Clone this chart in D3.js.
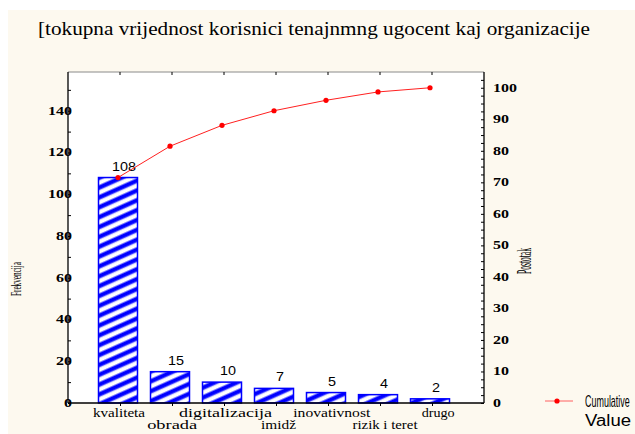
<!DOCTYPE html>
<html>
<head>
<meta charset="utf-8">
<script src="https://cdn.jsdelivr.net/npm/d3@7"></script>
<style>
  html, body { margin: 0; padding: 0; background: #ffffff; }
  svg { display: block; }
</style>
</head>
<body>
<svg id="chart" width="635" height="434"></svg>
<script>
// Pareto data: counts per category (sorted descending)
const categories = ["kvaliteta", "obrada", "digitalizacija", "imidž", "inovativnost", "rizik i teret", "drugo"];
const counts = [108, 15, 10, 7, 5, 4, 2];
const leftTicks = [0, 20, 40, 60, 80, 100, 120, 140];
const rightTicks = [0, 10, 20, 30, 40, 50, 60, 70, 80, 90, 100];
// label widths (compressed typeface look)
const labelWidths = [52, 50, 93, 35, 77, 65, 33];
const labelRows = [0, 1, 0, 1, 0, 1, 0];

const titleText = "[tokupna vrijednost korisnici tenajnmng ugocent kaj organizacije";
const leftTitle = "Frekvencija";
const rightTitle = "Postotak";
const legendText = ["Cumulative", "Value"];

const svg = d3.select("#chart");
const W = 635, H = 434;
const plot = { left: 68, right: 484, top: 72, bottom: 403 };

const total = d3.sum(counts);
const cumPct = Array.from(d3.cumsum(counts), v => v / total * 100);

// background panel
svg.append("rect").attr("x", 0).attr("y", 0).attr("width", W).attr("height", H).attr("fill", "#ffffff");
svg.append("rect").attr("x", 8).attr("y", 10).attr("width", W - 8).attr("height", H - 10).attr("fill", "#fdf9ef");
svg.append("rect").attr("x", plot.left).attr("y", plot.top)
  .attr("width", plot.right - plot.left).attr("height", plot.bottom - plot.top).attr("fill", "#ffffff");

// scales
const x = d3.scaleLinear().domain([0, categories.length + 1]).range([66, 482]);
const yL = d3.scaleLinear().domain([0, total * 1.05]).range([plot.bottom, plot.top]);
const yR = d3.scaleLinear().domain([0, 105]).range([plot.bottom, plot.top]);
const barW = 39;

// hatch pattern
const defs = svg.append("defs");
const pat = defs.append("pattern").attr("id", "hatch")
  .attr("patternUnits", "userSpaceOnUse").attr("width", 9).attr("height", 9)
  .attr("patternTransform", "rotate(-24)");
pat.append("rect").attr("width", 9).attr("height", 9).attr("fill", "#ffffff");
pat.append("rect").attr("x", 0).attr("y", 2).attr("width", 9).attr("height", 5.4).attr("fill", "#9a9aff");
pat.append("rect").attr("x", 0).attr("y", 2.8).attr("width", 9).attr("height", 3.8).attr("fill", "#0000ff");

// bars
svg.append("g").selectAll("rect").data(counts).join("rect")
  .attr("x", (d, i) => x(i + 1) - barW / 2)
  .attr("y", d => yL(d))
  .attr("width", barW)
  .attr("height", d => yL(0) - yL(d))
  .attr("fill", "url(#hatch)")
  .attr("stroke", "#0000ff")
  .attr("stroke-width", 1.5);

// value labels
svg.append("g").selectAll("text").data(counts).join("text")
  .attr("x", (d, i) => x(i + 1) + 6)
  .attr("y", d => yL(d) - 7)
  .attr("text-anchor", "middle")
  .attr("font-family", "Liberation Sans, Arial, sans-serif")
  .attr("font-size", 13)
  .attr("fill", "#000")
  .attr("textLength", d => String(d).length * 8)
  .attr("lengthAdjust", "spacingAndGlyphs")
  .text(d => d);

// frame: top (grey) with ticks, left/right/bottom axes black
svg.append("line").attr("x1", plot.left).attr("x2", plot.right).attr("y1", plot.top).attr("y2", plot.top)
  .attr("stroke", "#8a8a8a").attr("stroke-width", 1);
svg.append("g").selectAll("line").data(categories).join("line")
  .attr("x1", (d, i) => x(i + 1) + 2).attr("x2", (d, i) => x(i + 1) + 2)
  .attr("y1", plot.top).attr("y2", plot.top + 3)
  .attr("stroke", "#000");

// left axis
const gL = svg.append("g").attr("transform", `translate(${plot.left},0)`);
gL.call(d3.axisRight(yL).tickValues(d3.range(0, 160, 10)).tickSize(3).tickFormat(""));
gL.select(".domain").attr("stroke", "#000").attr("stroke-width", 1.3)
  .attr("d", `M0,${plot.bottom}V${plot.top}`);
gL.selectAll(".tick line").attr("stroke", "#000");
svg.append("g").selectAll("text").data(leftTicks).join("text")
  .attr("x", plot.left + 4).attr("y", d => yL(d) + 4)
  .attr("text-anchor", "end")
  .attr("font-family", "Liberation Serif, Times New Roman, serif")
  .attr("font-weight", "bold")
  .attr("font-size", 13)
  .attr("fill", "#000")
  .attr("textLength", d => String(d).length * 8)
  .attr("lengthAdjust", "spacingAndGlyphs")
  .text(d => d);

// right axis
const gR = svg.append("g").attr("transform", `translate(${plot.right},0)`);
gR.call(d3.axisLeft(yR).tickValues(d3.range(0, 105, 2.5)).tickSize(3).tickFormat(""));
gR.select(".domain").attr("stroke", "#000").attr("stroke-width", 1.3)
  .attr("d", `M0,${plot.bottom}V${plot.top}`);
gR.selectAll(".tick line").attr("stroke", "#000");
svg.append("g").selectAll("text").data(rightTicks).join("text")
  .attr("x", 493).attr("y", d => yR(d) + 4)
  .attr("text-anchor", "start")
  .attr("font-family", "Liberation Serif, Times New Roman, serif")
  .attr("font-weight", "bold")
  .attr("font-size", 13)
  .attr("fill", "#000")
  .attr("textLength", d => String(d).length * 8)
  .attr("lengthAdjust", "spacingAndGlyphs")
  .text(d => d);

// bottom axis
const gB = svg.append("g").attr("transform", `translate(0,${plot.bottom})`);
gB.call(d3.axisBottom(x).tickValues(d3.range(1, categories.length + 1)).tickSize(3).tickFormat(""));
gB.select(".domain").attr("stroke", "#000").attr("stroke-width", 1.3)
  .attr("d", `M${plot.left},0H${plot.right}`);
gB.selectAll(".tick line").attr("stroke", "#000").attr("transform", "translate(2,0)");

// category labels, staggered over two rows
svg.append("g").selectAll("text").data(categories).join("text")
  .attr("x", (d, i) => x(i + 1) + 1 + i * 1.2)
  .attr("y", (d, i) => labelRows[i] ? 429 : 417)
  .attr("text-anchor", "middle")
  .attr("font-family", "Liberation Serif, Times New Roman, serif")
  .attr("font-size", 12)
  .attr("fill", "#000")
  .attr("textLength", (d, i) => labelWidths[i])
  .attr("lengthAdjust", "spacingAndGlyphs")
  .text(d => d);

// cumulative line
const line = d3.line().x((d, i) => x(i + 1)).y(d => yR(d));
svg.append("path").datum(cumPct).attr("d", line)
  .attr("fill", "none").attr("stroke", "#ff2020").attr("stroke-width", 1);
svg.append("g").selectAll("circle").data(cumPct).join("circle")
  .attr("cx", (d, i) => x(i + 1)).attr("cy", d => yR(d)).attr("r", 2.6)
  .attr("fill", "#ff0000");

// title
svg.append("text").attr("x", 38).attr("y", 35)
  .attr("font-family", "Liberation Serif, Times New Roman, serif")
  .attr("font-size", 19)
  .attr("fill", "#000")
  .attr("textLength", 552)
  .attr("lengthAdjust", "spacingAndGlyphs")
  .text(titleText);

// axis titles
svg.append("text")
  .attr("transform", "translate(21,279) rotate(-90)")
  .attr("text-anchor", "middle")
  .attr("font-family", "Liberation Serif, Times New Roman, serif")
  .attr("font-size", 15)
  .attr("fill", "#000")
  .attr("textLength", 34)
  .attr("lengthAdjust", "spacingAndGlyphs")
  .text(leftTitle);
svg.append("text")
  .attr("transform", "translate(531,261) rotate(-90)")
  .attr("text-anchor", "middle")
  .attr("font-family", "Liberation Serif, Times New Roman, serif")
  .attr("font-size", 20)
  .attr("fill", "#000")
  .attr("textLength", 26)
  .attr("lengthAdjust", "spacingAndGlyphs")
  .text(rightTitle);

// legend
svg.append("line").attr("x1", 545).attr("x2", 573).attr("y1", 401).attr("y2", 401)
  .attr("stroke", "#ff6060").attr("stroke-width", 1);
svg.append("circle").attr("cx", 557).attr("cy", 401).attr("r", 2.6).attr("fill", "#ff0000");
svg.append("text")
  .attr("transform", "translate(585,407) scale(0.56,1)")
  .attr("font-family", "Liberation Sans, Arial, sans-serif")
  .attr("font-size", 16)
  .attr("fill", "#000")
  .text(legendText[0]);
svg.append("text").attr("x", 585).attr("y", 426)
  .attr("font-family", "Liberation Sans, Arial, sans-serif")
  .attr("font-size", 16)
  .attr("fill", "#000")
  .attr("textLength", 46)
  .attr("lengthAdjust", "spacingAndGlyphs")
  .text(legendText[1]);
</script>
</body>
</html>
